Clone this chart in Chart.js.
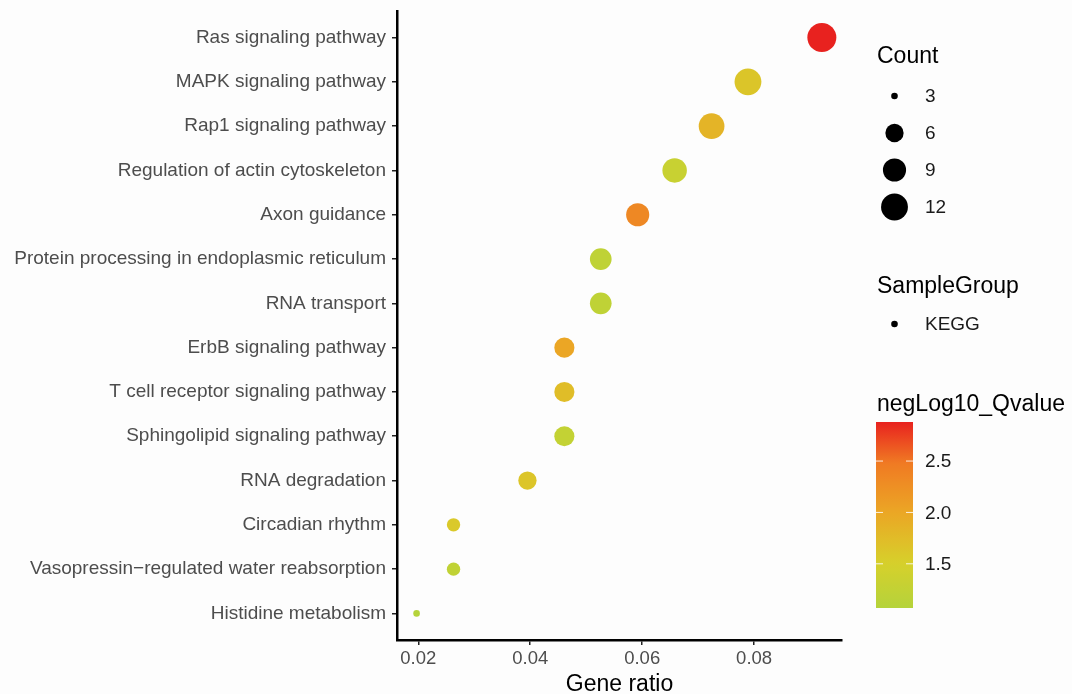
<!DOCTYPE html>
<html>
<head>
<meta charset="utf-8">
<script src="https://cdn.jsdelivr.net/npm/chart.js@4.4.1/dist/chart.umd.min.js"></script>
<style>
  html, body { margin: 0; padding: 0; background: #fdfdfd; }
  #wrap { width: 1072px; height: 694px; position: relative; }
  canvas { display: block; }
</style>
</head>
<body>
<div id="wrap"><canvas id="c" width="1072" height="694"></canvas></div>
<script>
// ---- Data ----
const categories = [
  "Ras signaling pathway",
  "MAPK signaling pathway",
  "Rap1 signaling pathway",
  "Regulation of actin cytoskeleton",
  "Axon guidance",
  "Protein processing in endoplasmic reticulum",
  "RNA transport",
  "ErbB signaling pathway",
  "T cell receptor signaling pathway",
  "Sphingolipid signaling pathway",
  "RNA degradation",
  "Circadian rhythm",
  "Vasopressin\u2212regulated water reabsorption",
  "Histidine metabolism"
];
const geneRatio = [0.0921, 0.0789, 0.0724, 0.0658, 0.0592, 0.0526, 0.0526, 0.0461, 0.0461, 0.0461, 0.0395, 0.0263, 0.0263, 0.0197];
const counts    = [14, 12, 11, 10, 9, 8, 8, 7, 7, 7, 6, 4, 4, 3];
const qvalues   = [2.88, 1.63, 1.84, 1.32, 2.33, 1.2, 1.2, 2.0, 1.73, 1.25, 1.64, 1.59, 1.22, 1.07];
const xTicks = [0.02, 0.04, 0.06, 0.08];
const countLegend = [3, 6, 9, 12];
const qTicks = [1.5, 2.0, 2.5];
const sampleGroups = ["KEGG"];

// ---- colour scale: stops sampled from the reference colour bar (position 0..1 low->high) ----
const colorStopPos = [0, 0.24, 0.51, 0.78, 1];
const colorStopHex = ["#b5d33b", "#d6d02b", "#eba725", "#f07a23", "#e8221f"];
function hex2rgb(h){ h=h.replace('#',''); return [0,2,4].map(i=>parseInt(h.substr(i,2),16)); }
const stopRGB = colorStopHex.map(hex2rgb);
const qMin = Math.min(...qvalues), qMax = Math.max(...qvalues);
function qColorT(t){
  t = Math.min(1, Math.max(0, t));
  let k = 0;
  while (k < colorStopPos.length - 2 && t > colorStopPos[k+1]) k++;
  const f = (t - colorStopPos[k]) / (colorStopPos[k+1] - colorStopPos[k]);
  const a = stopRGB[k], b = stopRGB[k+1];
  const c = a.map((v,i)=>Math.round(v + (b[i]-v)*f));
  return `rgb(${c[0]},${c[1]},${c[2]})`;
}
function qColor(v){ return qColorT((v - qMin) / (qMax - qMin)); }
// size scale (area scale like ggplot scale_size)
const cMin = Math.min(...counts), cMax = Math.max(...counts);
function cRadius(c){ return 3.3 + 11.2 * Math.sqrt(Math.max(0,(c - cMin)/(cMax - cMin))); }

const FONT = "'Liberation Sans', Arial, Helvetica, sans-serif";

const legendPlugin = {
  id: 'ggLegend',
  afterDraw(chart){
    const ctx = chart.ctx;
    ctx.save();
    // Count legend
    ctx.fillStyle = '#000';
    ctx.font = `23px ${FONT}`;
    ctx.textAlign = 'left'; ctx.textBaseline = 'alphabetic';
    ctx.fillText('Count', 877, 63);
    const cy = [96, 133, 170, 207];
    ctx.font = `19px ${FONT}`;
    countLegend.forEach((c, i) => {
      ctx.fillStyle = '#000';
      ctx.beginPath(); ctx.arc(894.5, cy[i], cRadius(c), 0, Math.PI*2); ctx.fill();
      ctx.fillStyle = '#1a1a1a';
      ctx.textBaseline = 'middle';
      ctx.fillText(String(c), 925, cy[i] + 1);
    });
    // SampleGroup legend
    ctx.fillStyle = '#000';
    ctx.font = `23px ${FONT}`;
    ctx.textBaseline = 'alphabetic';
    ctx.fillText('SampleGroup', 877, 293);
    ctx.font = `19px ${FONT}`;
    sampleGroups.forEach((g, i) => {
      const y = 324 + i * 36;
      ctx.fillStyle = '#000';
      ctx.beginPath(); ctx.arc(894.5, y, cRadius(3), 0, Math.PI*2); ctx.fill();
      ctx.fillStyle = '#1a1a1a';
      ctx.textBaseline = 'middle';
      ctx.fillText(g, 925, y + 1);
    });
    // colour bar
    ctx.fillStyle = '#000';
    ctx.font = `23px ${FONT}`;
    ctx.textBaseline = 'alphabetic';
    ctx.fillText('negLog10_Qvalue', 877, 411);
    const bx = 876, bw = 37, btop = 422, bbot = 608;
    const grad = ctx.createLinearGradient(0, bbot, 0, btop);
    for (let k = 0; k <= 40; k++) grad.addColorStop(k / 40, qColorT(k / 40));
    ctx.fillStyle = grad;
    ctx.fillRect(bx, btop, bw, bbot - btop);
    ctx.font = `19px ${FONT}`;
    qTicks.forEach(v => {
      const y = bbot - (v - qMin) / (qMax - qMin) * (bbot - btop);
      ctx.strokeStyle = 'rgba(255,255,255,0.85)'; ctx.lineWidth = 1;
      ctx.beginPath(); ctx.moveTo(bx, y); ctx.lineTo(bx + 7, y);
      ctx.moveTo(bx + bw - 7, y); ctx.lineTo(bx + bw, y); ctx.stroke();
      ctx.fillStyle = '#1a1a1a';
      ctx.textBaseline = 'middle';
      ctx.fillText(v.toFixed(1), 925, y + 1);
    });
    ctx.restore();
  }
};

const points = categories.map((c, i) => ({ x: geneRatio[i], y: i }));

new Chart(document.getElementById('c'), {
  type: 'scatter',
  data: {
    datasets: [{
      data: points,
      pointRadius: ctx => cRadius(counts[ctx.dataIndex]),
      pointHoverRadius: ctx => cRadius(counts[ctx.dataIndex]),
      pointBackgroundColor: ctx => qColor(qvalues[ctx.dataIndex]),
      pointBorderWidth: 0,
      pointBorderColor: 'rgba(0,0,0,0)',
      clip: false
    }]
  },
  options: {
    responsive: false,
    animation: false,
    devicePixelRatio: 1,
    layout: { autoPadding: false, padding: { left: 0, top: 11, right: 230, bottom: 0 } },
    plugins: { legend: { display: false }, tooltip: { enabled: false } },
    scales: {
      x: {
        type: 'linear',
        min: 0.0162, max: 0.0957,
        afterBuildTicks: s => { s.ticks = xTicks.map(v => ({ value: v })); },
        afterFit: s => { s.height = 54; s.paddingLeft = 0; s.paddingRight = 0; },
        ticks: {
          callback: v => Number(v).toFixed(2),
          color: '#4d4d4d',
          font: { family: FONT, size: 18.5 },
          padding: 3,
          maxRotation: 0
        },
        grid: { drawOnChartArea: false, drawTicks: true, tickLength: 5, color: '#222', lineWidth: 1.5 },
        border: { display: true, color: '#000', width: 2.5 },
        title: { display: true, text: 'Gene ratio', color: '#000', font: { family: FONT, size: 23, lineHeight: 0.85 }, padding: { top: 0, bottom: 0 } }
      },
      y: {
        type: 'linear',
        reverse: true,
        min: -0.6, max: 13.6,
        afterBuildTicks: s => { s.ticks = categories.map((c, i) => ({ value: i })); },
        afterFit: s => { s.width = 397; s.paddingTop = 0; s.paddingBottom = 0; },
        ticks: {
          callback: v => categories[v],
          color: '#4d4d4d',
          font: { family: FONT, size: 19, lineHeight: 0.6 },
          padding: 6,
          autoSkip: false
        },
        grid: { drawOnChartArea: false, drawTicks: true, tickLength: 5, color: '#222', lineWidth: 1.5 },
        border: { display: true, color: '#000', width: 2.5 }
      }
    }
  },
  plugins: [legendPlugin]
});
</script>
</body>
</html>
